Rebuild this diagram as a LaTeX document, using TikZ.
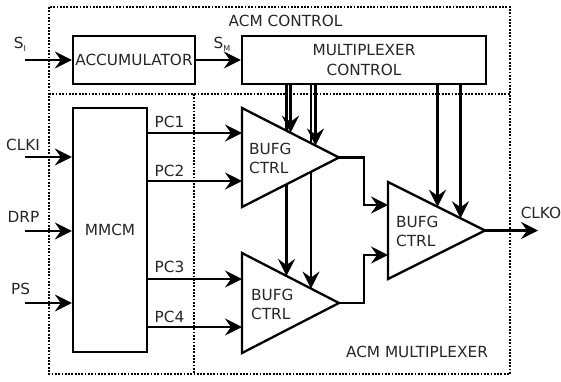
\documentclass[tikz,border=0pt]{standalone}
\usepackage{fontspec}
\setmainfont{DejaVu Sans}
\usetikzlibrary{arrows.meta,calc}
\begin{document}
\begin{tikzpicture}[x=1pt,y=-1pt,
  lw/.style={line width=2.3pt},
  arr/.style={line width=2.3pt,-{Stealth[length=17pt,width=17pt,inset=6pt]}},
  dots/.style={line width=2.2pt,dash pattern=on 1.8pt off 1.5pt},
  lbl/.style={inner sep=0pt,text=black!85,font=\fontsize{15.3}{19}\selectfont},
  box/.style={draw,line width=2.3pt,inner sep=0pt,text=black!85,font=\fontsize{15.3}{20}\selectfont},
  tri/.style={draw,line width=2.3pt,fill=white,line join=miter}]
\useasboundingbox (0,0) rectangle (561,381);
% dotted frames
\draw[dots] (49,7) rectangle (510,374);
\draw[dots] (49,94) -- (510,94);
\draw[dots] (194,94) -- (194,374);
\node[lbl] (acmc) at (285.5,21) {ACM CONTROL};
\node[lbl] (acmm) at (417,352) {ACM MULTIPLEXER};
% boxes
\node[box,minimum width=122pt,minimum height=48pt] (acc) at (134,60) {ACCUMULATOR};
\node[box,minimum width=244pt,minimum height=48pt,align=center] (mux) at (364,60) {MULTIPLEXER\\CONTROL};
\node[box,minimum width=74pt,minimum height=244pt] (mmcm) at (110,230) {MMCM};
% triangle corners
\coordinate (A1) at (242,108); \coordinate (B1) at (242,207); \coordinate (C1) at (339,157.5);
\coordinate (A2) at (242,253); \coordinate (B2) at (242,353); \coordinate (C2) at (339,303);
\coordinate (A3) at (388,182); \coordinate (B3) at (388,279); \coordinate (C3) at (485,230.5);
% points on slanted edges
\coordinate (e1) at ($(A2)!0.4588!(C2)$);
\coordinate (e2) at ($(A2)!0.7113!(C2)$);
\coordinate (e3) at ($(A1)!0.5!(C1)$);
\coordinate (e4) at ($(A1)!0.7577!(C1)$);
\coordinate (e5) at ($(A3)!0.5103!(C3)$);
\coordinate (e6) at ($(A3)!0.7474!(C3)$);
% triangles 2 and 3
\draw[tri] (A2) -- (B2) -- (C2) -- cycle;
\draw[tri] (A3) -- (B3) -- (C3) -- cycle;
% control lines to lower buffer (pass behind upper buffer)
\draw[arr] (e1 |- mux.south) -- (e1);
\draw[arr] (e2 |- mux.south) -- (e2);
% triangle 1
\draw[tri] (A1) -- (B1) -- (C1) -- cycle;
\draw[arr] (e3 |- mux.south) -- (e3);
\draw[arr] (e4 |- mux.south) -- (e4);
\draw[arr] (e5 |- mux.south) -- (e5);
\draw[arr] (e6 |- mux.south) -- (e6);
% triangle labels
\node[lbl,align=left,anchor=west] (t1) at (249,158.5) {BUFG\\CTRL};
\node[lbl,align=left,anchor=west] (t2) at (251,304) {BUFG\\CTRL};
\node[lbl,align=left,anchor=west] (t3) at (396,231.5) {BUFG\\CTRL};
% inputs to accumulator / mux
\coordinate (sIn) at (25,60);
\draw[arr] (sIn) -- (acc.west);
\node[lbl] (si) at (20,44) {S\raisebox{-0.35ex}{\fontsize{8}{8}\selectfont I}};
\draw[arr] (acc.east) -- (mux.west);
\node[lbl] (sm) at (222,44) {S\raisebox{-0.35ex}{\fontsize{8}{8}\selectfont M}};
% inputs to MMCM
\coordinate (clkIn) at (25,157);
\coordinate (drpIn) at (25,231);
\coordinate (psIn) at (25,303);
\draw[arr] (clkIn) -- (clkIn -| mmcm.west);
\draw[arr] (drpIn) -- (drpIn -| mmcm.west);
\draw[arr] (psIn) -- (psIn -| mmcm.west);
\node[lbl] (clki) at (23,145) {CLKI};
\node[lbl] (drp) at (23.5,217) {DRP};
\node[lbl] (ps) at (20.5,289) {PS};
% MMCM outputs
\coordinate (i1) at (242,133);
\coordinate (i2) at (242,181);
\coordinate (i3) at (242,279);
\coordinate (i4) at (242,327);
\draw[arr] (i1 -| mmcm.east) -- (i1);
\draw[arr] (i2 -| mmcm.east) -- (i2);
\draw[arr] (i3 -| mmcm.east) -- (i3);
\draw[arr] (i4 -| mmcm.east) -- (i4);
\node[lbl] (pc1) at (169.5,122) {PC1};
\node[lbl] (pc2) at (169.5,171) {PC2};
\node[lbl] (pc3) at (169.5,267) {PC3};
\node[lbl] (pc4) at (169.5,317) {PC4};
% buffer outputs to final buffer
\coordinate (j1) at (388,205);
\coordinate (j2) at (388,255);
\draw[arr] (C1) -- ++(25,0) |- (j1);
\draw[arr] (C2) -- ++(25,0) |- (j2);
% output
\coordinate (clko) at (538,230.5);
\draw[arr] (C3) -- (clko);
\node[lbl] (clkol) at (541,213) {CLKO};
\end{tikzpicture}
\end{document}
